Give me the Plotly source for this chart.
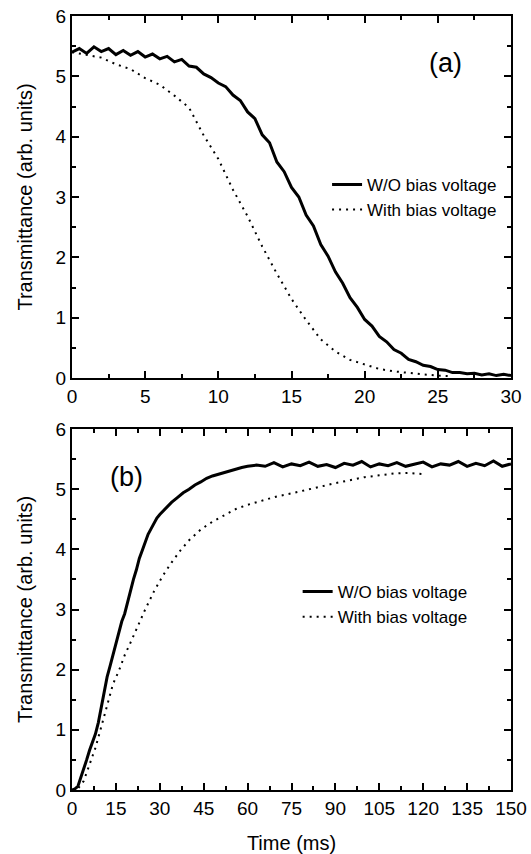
import plotly.graph_objects as go

# ---------- Data ----------
# Panel (a): decay
a_time_wo = [0, 0.5, 1, 1.5, 2, 2.5, 3, 3.5, 4, 4.5, 5, 5.5, 6, 6.5, 7, 7.5, 8, 8.5, 9, 9.5,
             10, 10.5, 11, 11.5, 12, 12.5, 13, 13.5, 14, 14.5, 15, 15.5, 16, 16.5, 17, 17.5, 18, 18.5, 19, 19.5,
             20, 20.5, 21, 21.5, 22, 22.5, 23, 23.5, 24, 24.5, 25, 25.5, 26, 26.5, 27, 27.5, 28, 28.5, 29, 29.5, 30]
a_wo = [5.40, 5.46, 5.38, 5.49, 5.41, 5.46, 5.36, 5.43, 5.35, 5.41,
        5.32, 5.37, 5.29, 5.33, 5.24, 5.28, 5.17, 5.15, 5.04, 4.98,
        4.89, 4.83, 4.69, 4.60, 4.41, 4.30, 4.03, 3.90, 3.58, 3.42,
        3.16, 3.00, 2.70, 2.52, 2.21, 2.02, 1.76, 1.57, 1.33, 1.17,
        0.97, 0.86, 0.69, 0.60, 0.47, 0.41, 0.31, 0.27, 0.21, 0.19,
        0.14, 0.13, 0.09, 0.09, 0.07, 0.08, 0.05, 0.07, 0.04, 0.06, 0.04]
a_time_with = [0, 1, 2, 3, 4, 5, 6, 7, 8, 9, 10, 11, 12, 13, 14, 15, 16, 17, 18, 19, 20, 21, 22, 23, 24, 25, 26]
a_with = [5.40, 5.36, 5.31, 5.20, 5.12, 4.97, 4.86, 4.68, 4.48, 4.02, 3.63, 3.12, 2.68, 2.18,
          1.73, 1.31, 0.96, 0.64, 0.44, 0.30, 0.22, 0.15, 0.11, 0.08, 0.06, 0.04, 0.03]

# Panel (b): rise
b_time_wo = [0, 1, 2, 3, 4, 5, 6, 7, 8, 9, 10, 11, 12, 13, 14, 15, 16, 17, 18, 19, 20, 21, 22, 23, 24, 25,
             26, 27, 28, 29, 30, 32, 34, 36, 38, 40, 42, 44, 46, 48, 50, 52, 54, 56, 58, 60,
             63, 66, 69, 72, 75, 78, 81, 84, 87, 90, 93, 96, 99, 102, 105, 108, 111, 114, 117, 120,
             123, 126, 129, 132, 135, 138, 141, 144, 147, 150]
b_wo = [0.00, 0.02, 0.06, 0.20, 0.35, 0.50, 0.66, 0.80, 0.93, 1.12, 1.38, 1.62, 1.88, 2.06, 2.25, 2.45,
        2.62, 2.80, 2.93, 3.12, 3.35, 3.50, 3.66, 3.85, 3.98, 4.12, 4.25, 4.34, 4.44, 4.52, 4.58,
        4.68, 4.78, 4.86, 4.94, 5.00, 5.07, 5.12, 5.18, 5.22, 5.25, 5.28, 5.31, 5.33, 5.36, 5.38,
        5.40, 5.38, 5.44, 5.37, 5.42, 5.39, 5.45, 5.38, 5.41, 5.36, 5.43, 5.40, 5.46, 5.37, 5.42,
        5.39, 5.44, 5.38, 5.41, 5.45, 5.37, 5.42, 5.40, 5.46, 5.38, 5.43, 5.39, 5.47, 5.38, 5.42]
b_time_with = [0, 2, 4, 6, 8, 10, 12, 14, 16, 18, 20, 22, 25, 28, 31, 34, 37, 40, 44, 48, 52, 56, 60,
               65, 70, 75, 80, 85, 90, 95, 100, 105, 110, 115, 120]
b_with = [0.00, 0.02, 0.15, 0.42, 0.70, 1.05, 1.42, 1.76, 1.98, 2.24, 2.45, 2.68, 3.00, 3.30, 3.56,
          3.78, 3.98, 4.15, 4.33, 4.46, 4.57, 4.67, 4.74, 4.81, 4.88, 4.93, 4.99, 5.05, 5.10, 5.15,
          5.20, 5.23, 5.26, 5.27, 5.25]

a_xticks = [0, 5, 10, 15, 20, 25, 30]
b_xticks = [0, 15, 30, 45, 60, 75, 90, 105, 120, 135, 150]
yticks = [0, 1, 2, 3, 4, 5, 6]

name_wo = "W/O bias voltage"
name_with = "With bias voltage"

FONT = "Liberation Sans, Arial, Helvetica, sans-serif"
solid = dict(color="black", width=3)
dotted = dict(color="black", width=2, dash="2px,5px")

fig = go.Figure()
fig.add_trace(go.Scatter(x=a_time_wo, y=a_wo, mode="lines", name=name_wo, line=solid,
                         xaxis="x", yaxis="y", legend="legend"))
fig.add_trace(go.Scatter(x=a_time_with, y=a_with, mode="lines", name=name_with, line=dotted,
                         xaxis="x", yaxis="y", legend="legend"))
fig.add_trace(go.Scatter(x=b_time_wo, y=b_wo, mode="lines", name=name_wo, line=solid,
                         xaxis="x2", yaxis="y2", legend="legend2"))
fig.add_trace(go.Scatter(x=b_time_with, y=b_with, mode="lines", name=name_with, line=dotted,
                         xaxis="x2", yaxis="y2", legend="legend2"))

axis_common = dict(showline=True, linecolor="black", linewidth=2, mirror="allticks",
                   ticks="inside", ticklen=7, tickwidth=1.5, tickcolor="black",
                   showgrid=False, zeroline=False, automargin=False,
                   tickfont=dict(family=FONT, size=19, color="black"))

fig.update_layout(
    width=531, height=854,
    margin=dict(l=72, r=20, t=16, b=64),
    paper_bgcolor="white", plot_bgcolor="white",
    font=dict(family=FONT, color="black"),
    xaxis=dict(domain=[0, 1], anchor="y", range=[0, 30], tickvals=a_xticks,
               minor=dict(dtick=2.5, ticks="inside", ticklen=4, tickcolor="black", tickwidth=1.5),
               **axis_common),
    yaxis=dict(domain=[0.5323, 1], anchor="x", range=[0, 6], tickvals=yticks,
               minor=dict(dtick=0.5, ticks="inside", ticklen=4, tickcolor="black", tickwidth=1.5),
               title=dict(text="Transmittance (arb. units)", font=dict(family=FONT, size=20), standoff=18),
               **axis_common),
    xaxis2=dict(domain=[0, 1], anchor="y2", range=[0, 150], tickvals=b_xticks,
                minor=dict(dtick=7.5, ticks="inside", ticklen=4, tickcolor="black", tickwidth=1.5),
                title=dict(text="Time (ms)", font=dict(family=FONT, size=20), standoff=22),
                **axis_common),
    yaxis2=dict(domain=[0, 0.4664], anchor="x2", range=[0, 6], tickvals=yticks,
                minor=dict(dtick=0.5, ticks="inside", ticklen=4, tickcolor="black", tickwidth=1.5),
                title=dict(text="Transmittance (arb. units)", font=dict(family=FONT, size=20), standoff=18),
                **axis_common),
    legend=dict(x=0.581, y=0.805, xanchor="left", yanchor="top", bgcolor="rgba(0,0,0,0)",
                font=dict(family=FONT, size=17), tracegroupgap=0, itemwidth=30),
    legend2=dict(x=0.514, y=0.279, xanchor="left", yanchor="top", bgcolor="rgba(0,0,0,0)",
                 font=dict(family=FONT, size=17), tracegroupgap=0, itemwidth=30),
    annotations=[
        dict(text="(a)", xref="x", yref="y", x=25.5, y=5.22, showarrow=False,
             font=dict(family=FONT, size=27)),
        dict(text="(b)", xref="x2", yref="y2", x=18.5, y=5.2, showarrow=False,
             font=dict(family=FONT, size=27)),
    ],
)

fig.write_html("out.html",
               config={"displayModeBar": False},
               post_script="document.body.style.margin='0px';document.body.style.overflow='hidden';")
